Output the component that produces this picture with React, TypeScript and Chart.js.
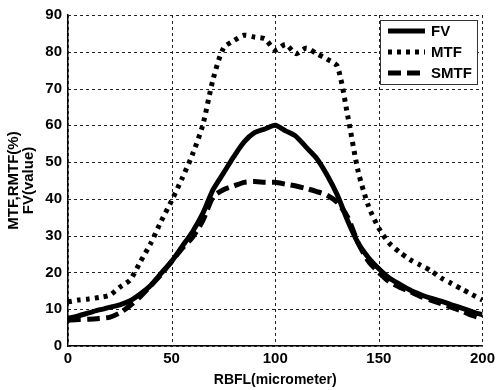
import React, { useEffect, useRef } from "react";
import { Chart, registerables } from "chart.js";

Chart.register(...registerables);

const xValues = [0, 5, 10, 15, 20, 25, 30, 35, 40, 45, 50, 55, 60, 65, 70, 75, 80, 85, 90, 95, 100, 105, 110, 115, 120, 125, 130, 135, 140, 145, 150, 155, 160, 165, 170, 175, 180, 185, 190, 195, 200];

const fvValues = [7.5, 8.2, 9, 9.8, 10.5, 11.2, 12.3, 14.2, 16.5, 19.8, 23, 27, 31, 36, 42.5, 47, 51.5, 55.5, 58, 59, 60, 58.5, 57, 54, 51, 46.5, 41, 34, 28, 24, 21, 18.5, 16.8, 15.2, 14, 13, 12.2, 11.2, 10.3, 9.3, 8.5];

const mtfValues = [12, 12.5, 12.8, 13.2, 13.8, 16, 18, 23, 28, 34, 39.5, 45.5, 52, 60, 72.5, 81, 83, 84.5, 84, 83.5, 80.5, 82, 79.5, 81, 79.5, 78, 76, 62.5, 47.5, 38, 32, 28, 25.5, 23.5, 22, 20.5, 18.5, 17, 15.5, 14, 12.5];

const smtfValues = [7, 7.2, 7.3, 7.5, 7.8, 9, 11, 13.5, 16.5, 19.5, 23, 26.5, 29.5, 34, 40.5, 42.5, 43.5, 44.5, 44.7, 44.5, 44.5, 44, 43.5, 42.8, 42, 41, 39, 35, 28, 23, 20, 17.5, 16, 14.8, 13.5, 12.5, 11.5, 10.5, 9.5, 8.3, 7.5];

const seriesNames = ["FV", "MTF", "SMTF"];
const xTicks = [0, 50, 100, 150, 200];
const yTicks = [0, 10, 20, 30, 40, 50, 60, 70, 80, 90];
const xTitle = "RBFL(micrometer)";
const yTitle = ["MTF,RMTF(%)", "FV(value)"];

const FONT = "'Liberation Sans', Arial, sans-serif";

const gridPlugin = {
  id: "dottedGrid",
  beforeDatasetsDraw(chart: any) {
    const { ctx, chartArea: a, scales } = chart;
    ctx.save();
    ctx.strokeStyle = "#222";
    ctx.lineWidth = 1;
    ctx.setLineDash([3, 3]);
    xTicks.forEach((v) => {
      const px = Math.round(scales.x.getPixelForValue(v)) + 0.5;
      ctx.beginPath();
      ctx.moveTo(px, a.top);
      ctx.lineTo(px, a.bottom);
      ctx.stroke();
    });
    yTicks.forEach((v) => {
      const py = Math.round(scales.y.getPixelForValue(v)) + 0.5;
      ctx.beginPath();
      ctx.moveTo(a.left, py);
      ctx.lineTo(a.right, py);
      ctx.stroke();
    });
    ctx.restore();
  },
};

const legendPlugin = {
  id: "boxLegend",
  afterDraw(chart: any) {
    const ctx = chart.ctx;
    const left = 380, top = 20, w = 97, h = 64;
    ctx.save();
    ctx.fillStyle = "#fff";
    ctx.fillRect(left, top, w, h);
    ctx.strokeStyle = "#333";
    ctx.lineWidth = 1;
    ctx.setLineDash([]);
    ctx.strokeRect(left + 0.5, top + 0.5, w, h);
    chart.data.datasets.forEach((ds: any, i: number) => {
      const y = top + 11 + i * 21;
      ctx.beginPath();
      ctx.setLineDash(ds.borderDash || []);
      ctx.lineWidth = ds.borderWidth;
      ctx.strokeStyle = ds.borderColor;
      ctx.moveTo(left + 8, y);
      ctx.lineTo(left + 45, y);
      ctx.stroke();
      ctx.setLineDash([]);
      ctx.fillStyle = "#000";
      ctx.font = `bold 15px ${FONT}`;
      ctx.textBaseline = "middle";
      ctx.textAlign = "left";
      ctx.fillText(ds.label, left + 51, y + 1);
    });
    ctx.restore();
  },
};

export default function App() {
  const ref = useRef<HTMLCanvasElement>(null);
  useEffect(() => {
    if (!ref.current) return;
    const mk = (vals: number[]) => xValues.map((x, i) => ({ x, y: vals[i] }));
    const chart = new Chart(ref.current, {
      type: "line",
      data: {
        datasets: [
          { label: seriesNames[0], data: mk(fvValues), borderColor: "#000", borderWidth: 5, borderDash: [], pointRadius: 0, tension: 0.25 },
          { label: seriesNames[1], data: mk(mtfValues), borderColor: "#000", borderWidth: 5, borderDash: [4, 5], pointRadius: 0, tension: 0.25 },
          { label: seriesNames[2], data: mk(smtfValues), borderColor: "#000", borderWidth: 5, borderDash: [13, 6], pointRadius: 0, tension: 0.25 },
        ],
      },
      options: {
        responsive: false,
        animation: false,
        devicePixelRatio: 1,
        layout: { padding: { top: 12, right: 13, left: 0, bottom: 0 } },
        plugins: { legend: { display: false }, tooltip: { enabled: false } },
        scales: {
          x: {
            type: "linear",
            min: 0,
            max: 200,
            afterFit: (s: any) => { s.height = 44; },
            afterBuildTicks: (s: any) => { s.ticks = xTicks.map((v) => ({ value: v })); },
            ticks: { color: "#000", font: { family: FONT, size: 15, weight: "bold" }, padding: 4 },
            grid: { display: false, drawTicks: false },
            border: { display: true, color: "#000", width: 1.5 },
            title: { display: true, text: xTitle, color: "#000", font: { family: FONT, size: 14, weight: "bold" }, padding: { top: 0, bottom: 1 } },
          },
          y: {
            type: "linear",
            min: 0,
            max: 90,
            afterFit: (s: any) => { s.width = 68; },
            afterBuildTicks: (s: any) => { s.ticks = yTicks.map((v) => ({ value: v })); },
            ticks: { color: "#000", font: { family: FONT, size: 15, weight: "bold" }, padding: 6 },
            grid: { display: false, drawTicks: false },
            border: { display: true, color: "#000", width: 1.5 },
            title: { display: true, text: yTitle, color: "#000", font: { family: FONT, size: 15, weight: "bold", lineHeight: 1 }, padding: { top: 6, bottom: 0 } },
          },
        },
      },
      plugins: [gridPlugin, legendPlugin],
    } as any);
    return () => chart.destroy();
  }, []);
  return (
    <div style={{ position: "fixed", left: 0, top: 0, width: 499, height: 390, background: "#fff" }}>
      <canvas ref={ref} width={499} height={390} style={{ width: 499, height: 390 }} />
    </div>
  );
}
